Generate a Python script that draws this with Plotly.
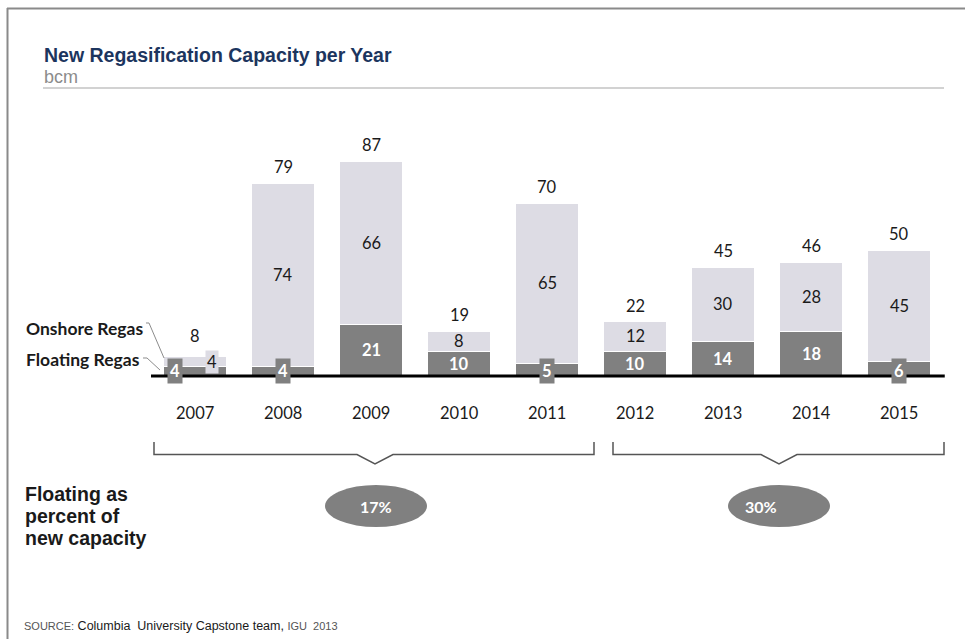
import plotly.graph_objects as go

years = ["2007", "2008", "2009", "2010", "2011", "2012", "2013", "2014", "2015"]
floating = [4, 4, 21, 10, 5, 10, 14, 18, 6]
onshore = [4, 74, 66, 8, 65, 12, 30, 28, 45]
totals = [8, 79, 87, 19, 70, 22, 45, 46, 50]
group_labels = ["17%", "30%"]

W, H = 965, 639
DARK = "#808080"
LIGHT = "#dddce4"
NUM_FONT = "Lato"


def px(x):
    return x / W


def py(y):
    return 1 - y / H


fig = go.Figure()
fig.add_trace(go.Bar(x=years, y=floating, name="Floating Regas",
                     marker=dict(color=DARK, line=dict(color="white", width=1)),
                     hoverinfo="skip"))
fig.add_trace(go.Bar(x=years, y=onshore, name="Onshore Regas",
                     marker=dict(color=LIGHT, line=dict(color="white", width=1)),
                     hoverinfo="skip"))

ann = []
shapes = []

for i, yr in enumerate(years):
    f, o, t = floating[i], onshore[i], totals[i]
    stack = f + o
    # total above bar
    ann.append(dict(x=i, y=stack + 6.5 + (1.5 if i == 0 else 0), xref="x", yref="y",
                    yanchor="middle", text=str(t), showarrow=False,
                    font=dict(family=NUM_FONT, size=16.5, color="#1a1a1a")))
    # year label
    ann.append(dict(x=i, y=-15, xref="x", yref="y", yanchor="middle", text=yr, showarrow=False,
                    font=dict(family=NUM_FONT, size=16.5, color="#1a1a1a")))
    # onshore label
    if i == 0:
        ann.append(dict(x=i, y=5.6, xref="x", yref="y", yanchor="middle", text=str(o),
                        showarrow=False, xshift=17, bgcolor=LIGHT, borderpad=1,
                        font=dict(family=NUM_FONT, size=16.5, color="#1a1a1a")))
    else:
        ann.append(dict(x=i, y=f + o / 2, xref="x", yref="y", yanchor="middle", text=str(o),
                        showarrow=False,
                        font=dict(family=NUM_FONT, size=16.5, color="#1a1a1a")))
    # floating label
    if f >= 10:
        ann.append(dict(x=i, y=f / 2, xref="x", yref="y", yanchor="middle",
                        text="<b>%d</b>" % f, showarrow=False,
                        font=dict(family=NUM_FONT, size=16.5, color="white")))
    else:
        ann.append(dict(x=i, y=2.2, xref="x", yref="y", yanchor="middle",
                        text="<b>%d</b>" % f, showarrow=False,
                        xshift=(-20 if i == 0 else 0), bgcolor=DARK, borderpad=2,
                        font=dict(family=NUM_FONT, size=16.5, color="white")))

# baseline
shapes.append(dict(type="line", xref="x", yref="y", x0=-0.5, x1=8.52, y0=0, y1=0,
                   line=dict(color="black", width=3), layer="above"))

# frame lines
shapes.append(dict(type="line", xref="paper", yref="paper", x0=px(7), x1=1, y0=py(8.5), y1=py(8.5),
                   line=dict(color="#8a8a8a", width=2)))
shapes.append(dict(type="line", xref="paper", yref="paper", x0=px(7.5), x1=px(7.5), y0=py(8), y1=0,
                   line=dict(color="#8a8a8a", width=2)))

# title rule
shapes.append(dict(type="line", xref="paper", yref="paper", x0=px(43), x1=px(944), y0=py(88), y1=py(88),
                   line=dict(color="#a6a6a6", width=1.2)))

# leader lines
shapes.append(dict(type="path", xref="paper", yref="paper",
                   path="M %f %f L %f %f L %f %f" % (px(146), py(323), px(149), py(323), px(164), py(358)),
                   line=dict(color="#8c8c8c", width=1)))
shapes.append(dict(type="path", xref="paper", yref="paper",
                   path="M %f %f L %f %f L %f %f" % (px(143), py(358), px(147), py(358), px(160), py(370)),
                   line=dict(color="#8c8c8c", width=1)))


# brackets
def bracket(x0, x1, xm):
    top, mid, tip, hw = 442, 454.5, 464, 18
    return "M %f %f L %f %f L %f %f L %f %f L %f %f L %f %f L %f %f" % (
        px(x0), py(top), px(x0), py(mid), px(xm - hw), py(mid), px(xm), py(tip),
        px(xm + hw), py(mid), px(x1), py(mid), px(x1), py(top))


shapes.append(dict(type="path", xref="paper", yref="paper", path=bracket(154, 594, 375),
                   line=dict(color="#555555", width=1.5)))
shapes.append(dict(type="path", xref="paper", yref="paper", path=bracket(613, 944, 779),
                   line=dict(color="#555555", width=1.5)))

# ellipses
for cx, lab in zip([376, 779], group_labels):
    shapes.append(dict(type="circle", xref="paper", yref="paper",
                       x0=px(cx - 51), x1=px(cx + 51), y0=py(527), y1=py(485),
                       fillcolor=DARK, line=dict(width=0)))
    ann.append(dict(x=px(cx), y=py(506), xref="paper", yref="paper", yanchor="middle",
                    text="<b>%s</b>" % lab,
                    showarrow=False, font=dict(family=NUM_FONT, size=16, color="white")))

# Titles and text
ann.append(dict(x=px(42), y=py(55), xref="paper", yref="paper", xanchor="left", yanchor="middle",
                text="<b>New Regasification Capacity per Year</b>", showarrow=False,
                font=dict(family="Liberation Sans", size=19.5, color="#1c355e")))
ann.append(dict(x=px(42), y=py(77), xref="paper", yref="paper", xanchor="left", yanchor="middle",
                text="bcm", showarrow=False,
                font=dict(family="Liberation Sans", size=18, color="#8c8c8c")))
ann.append(dict(x=px(24), y=py(328), xref="paper", yref="paper", xanchor="left", yanchor="middle",
                text="<b>Onshore Regas</b>", showarrow=False,
                font=dict(family=NUM_FONT, size=17.5, color="#1a1a1a")))
ann.append(dict(x=px(24), y=py(359), xref="paper", yref="paper", xanchor="left", yanchor="middle",
                text="<b>Floating Regas</b>", showarrow=False,
                font=dict(family=NUM_FONT, size=17.5, color="#1a1a1a")))
for yy, line in zip([494, 516, 538], ["Floating as", "percent of", "new capacity"]):
    ann.append(dict(x=px(23), y=py(yy), xref="paper", yref="paper", xanchor="left", yanchor="middle",
                    text="<b>%s</b>" % line, showarrow=False,
                    font=dict(family="Liberation Sans", size=19.5, color="#1a1a1a")))
ann.append(dict(x=px(22), y=py(626), xref="paper", yref="paper", xanchor="left", yanchor="middle",
                text="<span style='font-size:11px;color:#555555'>SOURCE:</span> Columbia  University Capstone team, "
                     "<span style='font-size:11px;color:#555555'>IGU  2013</span>",
                showarrow=False,
                font=dict(family="Liberation Sans", size=12.5, color="#1a1a1a")))

x0 = -195 / 88
x1 = (W - 195) / 88
ytop = 376 / 2.47
ybot = (376 - H) / 2.47

fig.update_layout(
    width=W, height=H, autosize=False,
    margin=dict(l=0, r=0, t=0, b=0),
    paper_bgcolor="white", plot_bgcolor="white",
    barmode="stack", bargap=0.295,
    showlegend=False,
    xaxis=dict(type="category", range=[x0, x1], visible=False, fixedrange=True),
    yaxis=dict(range=[ybot, ytop], visible=False, fixedrange=True),
    annotations=ann, shapes=shapes,
)

fig.write_html("out.html")
